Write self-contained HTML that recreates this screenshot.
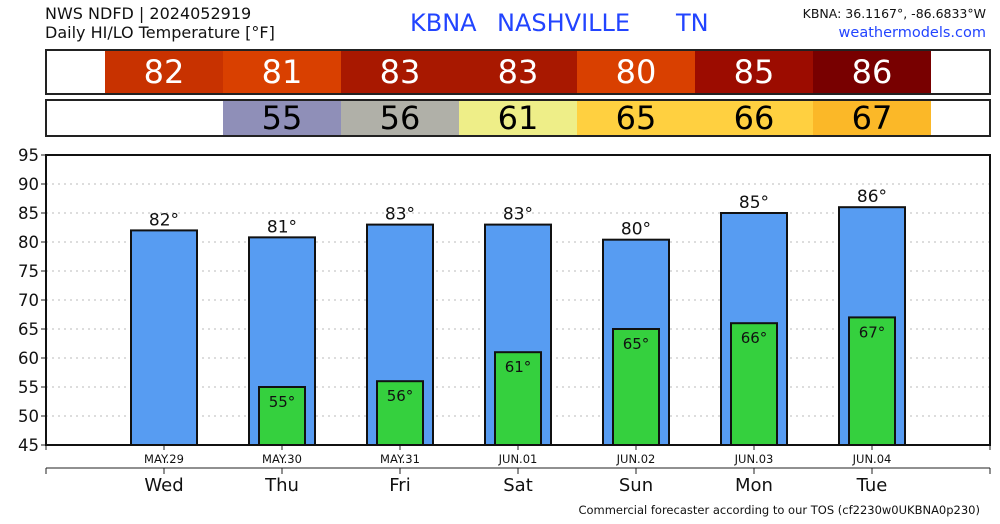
<!DOCTYPE html>
<html><head><meta charset="utf-8">
<style>
body{margin:0;background:#fff;width:1000px;height:520px;overflow:hidden;font-family:"DejaVu Sans","Liberation Sans",sans-serif;}
</style></head>
<body>
<svg id="c" width="1000" height="520" xmlns="http://www.w3.org/2000/svg" font-family="DejaVu Sans, Liberation Sans, sans-serif">
<text x="45" y="19" font-size="16" fill="#111">NWS NDFD | 2024052919</text>
<text x="45" y="38" font-size="16" fill="#111">Daily HI/LO Temperature [°F]</text>
<g font-size="24" fill="#2244ff">
<text x="410" y="31">KBNA</text>
<text x="497" y="31">NASHVILLE</text>
<text x="676" y="31">TN</text>
</g>
<text x="986" y="18" font-size="12.5" fill="#111" text-anchor="end">KBNA: 36.1167°, -86.6833°W</text>
<text x="986" y="37" font-size="14.5" fill="#2244ff" text-anchor="end">weathermodels.com</text>
<g id="strips"></g>
<g id="plot"></g>
<text x="980" y="514" font-size="11.5" fill="#111" text-anchor="end">Commercial forecaster according to our TOS (cf2230w0UKBNA0p230)</text>
</svg>
<script>
const days=["Wed","Thu","Fri","Sat","Sun","Mon","Tue"];
const dates=["MAY.29","MAY.30","MAY.31","JUN.01","JUN.02","JUN.03","JUN.04"];
const highs=[82,80.8,83,83,80.4,85,86];
const hiLabels=["82","81","83","83","80","85","86"];
const lows=[null,55,56,61,65,66,67];
const loLabels=["","55","56","61","65","66","67"];
const hiColors=["#c83200","#d94000","#a81800","#a81800","#d94000","#9c0c00","#780000"];
const loColors=["#fff","#8f8fb8","#b0b0a8","#eeee88","#ffd040","#ffd040","#fbb828"];
const yTicks=[45,50,55,60,65,70,75,80,85,90,95];
const NS="http://www.w3.org/2000/svg";
const L=46,R=990,T=155,B=445;
const xs=i=>L+(R-L)/8*(i+1);
const ys=v=>B-(v-45)/50*(B-T);
function mk(p,t,a){const e=document.createElementNS(NS,t);for(const k in a)e.setAttribute(k,a[k]);p.appendChild(e);return e;}
const S=document.getElementById('strips'),P=document.getElementById('plot');
const cw=(R-L)/8;
[[50,94,hiColors,hiLabels,"#fff","hi"],[100,136,loColors,loLabels,"#000","lo"]].forEach(([y0,y1,cols,labs,tc,nm])=>{
  const bg=mk(S,'rect',{x:L,y:y0,width:R-L,height:y1-y0,fill:'#fff'});
  
  
  days.forEach((d,i)=>{
    const r=mk(S,'rect',{x:xs(i)-cw/2,y:y0,width:cw,height:y1-y0,fill:cols[i]});
    
    
    const t=mk(S,'text',{x:xs(i),y:(y0+y1)/2+11,'font-size':32,fill:tc,'text-anchor':'middle'});
    t.textContent=labs[i];
    
    
  });
  const o=mk(S,'rect',{x:L,y:y0,width:R-L,height:y1-y0,fill:'none',stroke:'#222','stroke-width':2});
  
  
});
yTicks.forEach(v=>{
  if(v>45&&v<95){const g=mk(P,'line',{x1:L,x2:R,y1:ys(v),y2:ys(v),stroke:'#bbb','stroke-dasharray':'2,4'});
  }
  mk(P,'line',{x1:L-5,x2:L,y1:ys(v),y2:ys(v),stroke:'#222'});
  const t=mk(P,'text',{x:L-7,y:ys(v)+6,'font-size':16.5,'text-anchor':'end',fill:'#111'});
  t.textContent=v;
  
  
});
days.forEach((d,i)=>{
  const x=xs(i);
  const hb=mk(P,'rect',{x:x-33,y:ys(highs[i]),width:66,height:B-ys(highs[i]),fill:'#579cf2',stroke:'#111','stroke-width':2});
  
  
  const ht=mk(P,'text',{x:x,y:ys(highs[i])-5,'font-size':17,'text-anchor':'middle',fill:'#111'});
  ht.textContent=hiLabels[i]+'°';
  
  
  if(lows[i]!=null){
    const lb=mk(P,'rect',{x:x-23,y:ys(lows[i]),width:46,height:B-ys(lows[i]),fill:'#35d03e',stroke:'#111','stroke-width':2});
    
    
    const lt=mk(P,'text',{x:x,y:ys(lows[i])+20,'font-size':15,'text-anchor':'middle',fill:'#111'});
    lt.textContent=loLabels[i]+'°';
    
    
  }
  mk(P,'line',{x1:x,x2:x,y1:B,y2:B+5,stroke:'#222'});
  const dt=mk(P,'text',{x:x,y:B+18,'font-size':11.5,'text-anchor':'middle',fill:'#111'});
  dt.textContent=dates[i];
  
  
  mk(P,'line',{x1:x,x2:x,y1:468,y2:474,stroke:'#222'});
  const dy=mk(P,'text',{x:x,y:491,'font-size':18,'text-anchor':'middle',fill:'#111'});
  dy.textContent=d;
  
  
});
mk(P,'line',{x1:L,x2:L,y1:B,y2:B+5,stroke:'#222'});mk(P,'line',{x1:R,x2:R,y1:B,y2:B+5,stroke:'#222'});
mk(P,'line',{x1:L,x2:R,y1:468,y2:468,stroke:'#222'});
mk(P,'line',{x1:L,x2:L,y1:468,y2:474,stroke:'#222'});mk(P,'line',{x1:R,x2:R,y1:468,y2:474,stroke:'#222'});
const fr=mk(P,'rect',{x:L,y:T,width:R-L,height:B-T,fill:'none',stroke:'#111','stroke-width':2});


</script>
</body></html>
